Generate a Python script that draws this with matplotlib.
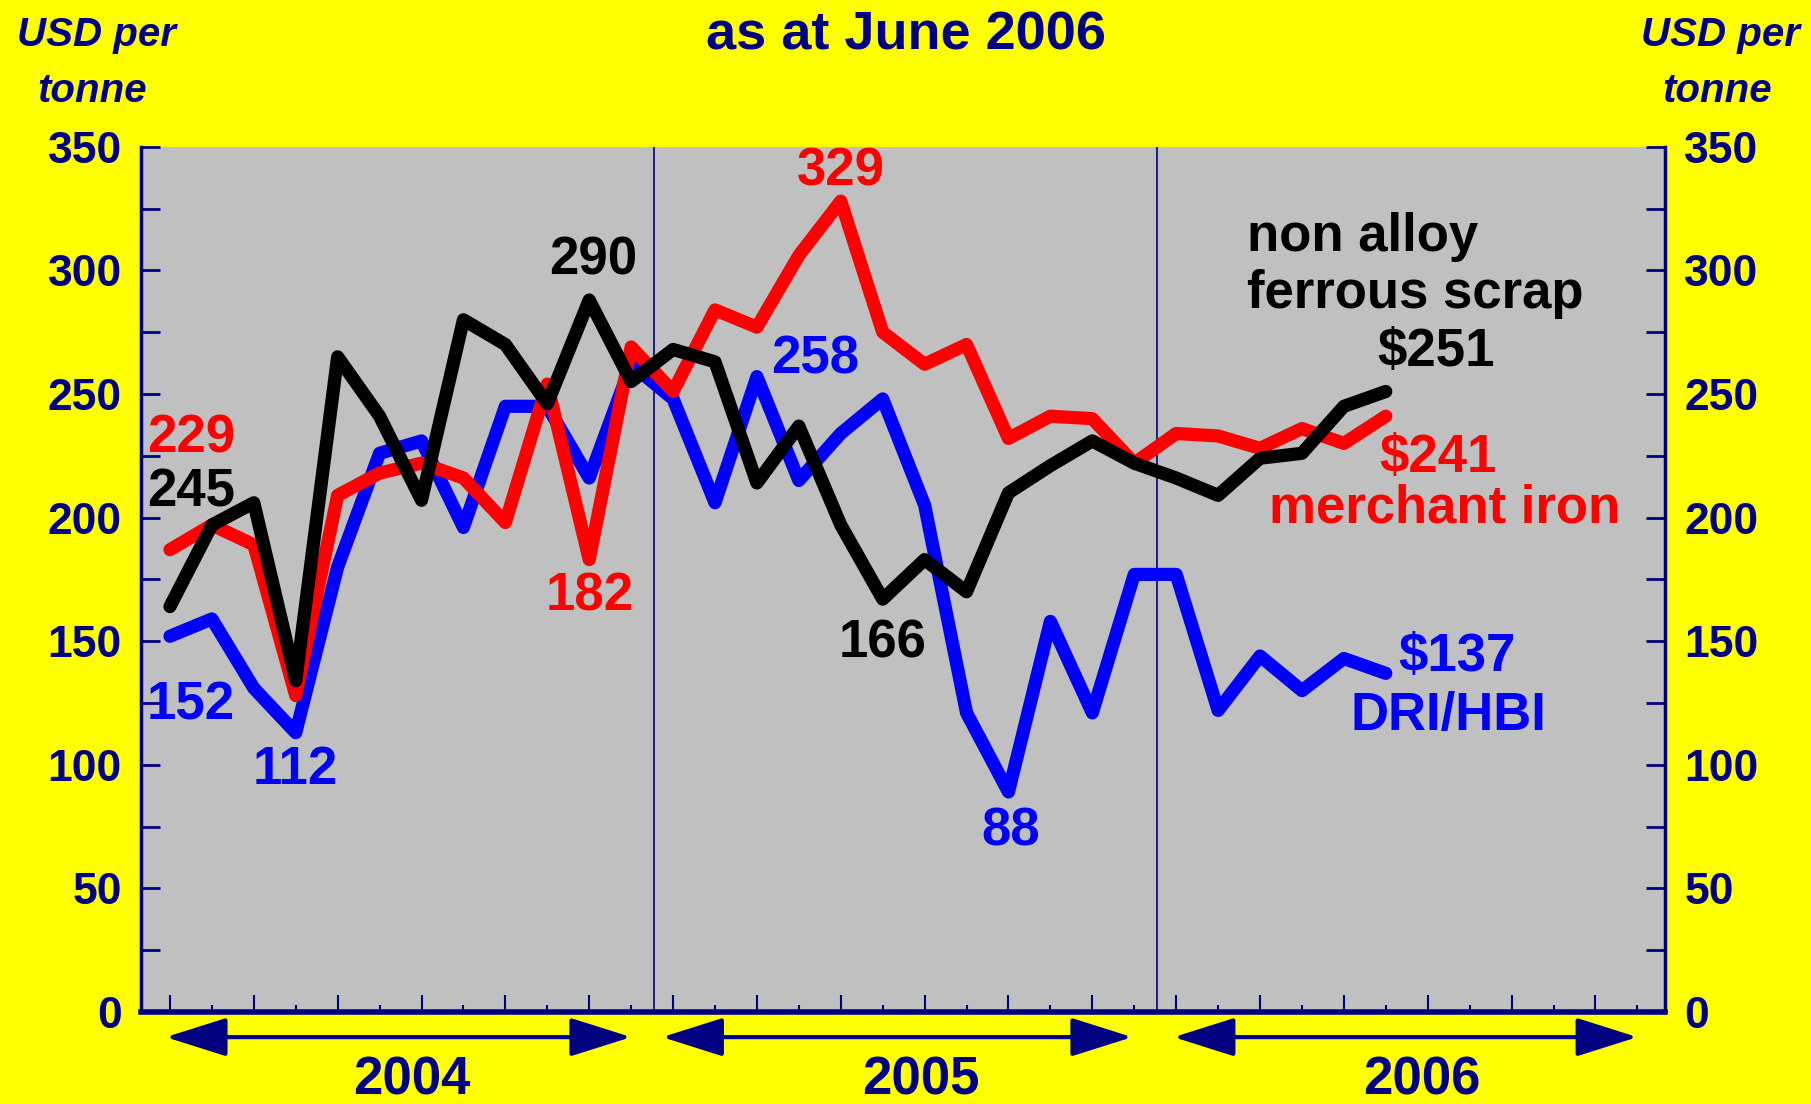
import numpy as np
import matplotlib.pyplot as plt
from matplotlib import transforms
from matplotlib.patches import FancyArrowPatch
from matplotlib.ticker import MultipleLocator

plt.rcParams["font.family"] = ["Liberation Sans", "DejaVu Sans"]
plt.rcParams["font.weight"] = "bold"

navy = "#000080"
yellow = "#FFFF00"
red = "#FF0000"
blue = "#0000FF"

# monthly prices, Jan 2004 - Jun 2006 (USD per tonne)
months = np.arange(30)
merchant_iron = [187, 197, 189, 128, 209, 218, 222, 216, 198, 254, 183, 269,
                 251, 284, 277, 306, 328, 275, 262, 270, 232, 241, 240, 222,
                 234, 233, 228, 236, 230, 241]
dri_hbi = [152, 159, 131, 113, 180, 226, 231, 196, 245, 245, 216, 262,
           248, 206, 257, 215, 234, 248, 205, 121, 89, 158, 121, 177,
           177, 122, 144, 130, 143, 137]
scrap = [164, 197, 206, 134, 265, 241, 207, 280, 270, 246, 288, 255,
         268, 263, 214, 237, 197, 167, 183, 170, 210, 221, 231, 222,
         216, 209, 224, 226, 245, 251]

years = ["2004", "2005", "2006"]

fig = plt.figure(figsize=(18.11, 11.04), dpi=100, facecolor=yellow)
ax = fig.add_axes([0.0781, 0.0833, 0.8413, 0.7838])
ax.set_facecolor("#C0C0C0")

line_kw = dict(lw=9.5, solid_capstyle="round", solid_joinstyle="round")
ax.plot(months, dri_hbi, color=blue, zorder=3, **line_kw)
ax.plot(months, merchant_iron, color=red, zorder=4, **line_kw)
ax.plot(months, scrap, color="black", zorder=5, **line_kw)

# year separators
ax.axvline(11.55, color=navy, lw=1.2, zorder=2)
ax.axvline(23.55, color=navy, lw=1.2, zorder=2)

ax.set_xlim(-0.68, 35.66)
ax.set_ylim(0, 350)

ax.spines["top"].set_visible(False)
for side in ["left", "right"]:
    ax.spines[side].set_color(navy)
    ax.spines[side].set_linewidth(2.5)
ax.spines["bottom"].set_color(navy)
ax.spines["bottom"].set_linewidth(4)

ax.yaxis.set_major_locator(MultipleLocator(50))
ax.yaxis.set_minor_locator(MultipleLocator(25))
ax.tick_params(axis="y", which="both", direction="in", length=14, width=2,
               color=navy, left=True, right=True)
ax.tick_params(axis="y", which="major", labelcolor=navy, labelsize=32,
               pad=14, labelleft=True, labelright=True)

ax.set_xticks(range(0, 36, 2))
ax.set_xticks(range(1, 36, 2), minor=True)
ax.tick_params(axis="x", which="major", direction="in", length=12, width=1.5,
               color=navy, labelbottom=False)
ax.tick_params(axis="x", which="minor", direction="in", length=5, width=1.5,
               color=navy)

# value labels
fs = 38
ax.text(0.5, 232, "229", color=red, fontsize=fs, ha="center", va="center")
ax.text(0.5, 210, "245", color="black", fontsize=fs, ha="center", va="center")
ax.text(0.5, 124, "152", color=blue, fontsize=fs, ha="center", va="center")
ax.text(3.0, 98, "112", color=blue, fontsize=fs, ha="center", va="center")
ax.text(10.1, 304, "290", color="black", fontsize=fs, ha="center", va="center")
ax.text(10.0, 168, "182", color=red, fontsize=fs, ha="center", va="center")
ax.text(16.0, 340, "329", color=red, fontsize=fs, ha="center", va="center")
ax.text(15.4, 264, "258", color=blue, fontsize=fs, ha="center", va="center")
ax.text(17.0, 149, "166", color="black", fontsize=fs, ha="center", va="center")
ax.text(20.05, 73, "88", color=blue, fontsize=fs, ha="center", va="center")

ax.text(25.7, 313.6, "non alloy", color="black", fontsize=fs, ha="left", va="center")
ax.text(25.7, 290.4, "ferrous scrap", color="black", fontsize=fs, ha="left", va="center")
ax.text(30.2, 267, "$251", color="black", fontsize=fs, ha="center", va="center")
ax.text(30.25, 224, "$241", color=red, fontsize=fs, ha="center", va="center")
ax.text(30.4, 203.6, "merchant iron", color=red, fontsize=fs, ha="center", va="center")
ax.text(30.7, 143.5, "$137", color=blue, fontsize=fs, ha="center", va="center")
ax.text(30.5, 119.8, "DRI/HBI", color=blue, fontsize=fs, ha="center", va="center")

# year arrows under the axis
blend = transforms.blended_transform_factory(ax.transData, ax.transAxes)
spans = [(-0.1, 11.0), (11.74, 22.95), (23.94, 35.0)]
label_x = [5.78, 17.9, 29.85]
for (x0, x1), lx, yr in zip(spans, label_x, years):
    arrow = FancyArrowPatch((x0, -0.029), (x1, -0.029), transform=blend,
                            arrowstyle="<|-|>,head_length=38,head_width=12",
                            mutation_scale=1, lw=3, color=navy,
                            shrinkA=0, shrinkB=0, clip_on=False)
    ax.add_patch(arrow)
    ax.text(lx, -0.079, yr, transform=blend, color=navy, fontsize=38,
            ha="center", va="center", clip_on=False)

fig.text(0.5, 0.968, "as at June 2006", color=navy, fontsize=39,
         ha="center", va="center")
for x in [0.053, 0.950]:
    fig.text(x, 0.9686, "USD per", color=navy, fontsize=29, style="italic",
             ha="center", va="center")
    fig.text(x - 0.002, 0.918, "tonne", color=navy, fontsize=29, style="italic",
             ha="center", va="center")

fig.savefig("out.png", dpi=100, facecolor=yellow)
